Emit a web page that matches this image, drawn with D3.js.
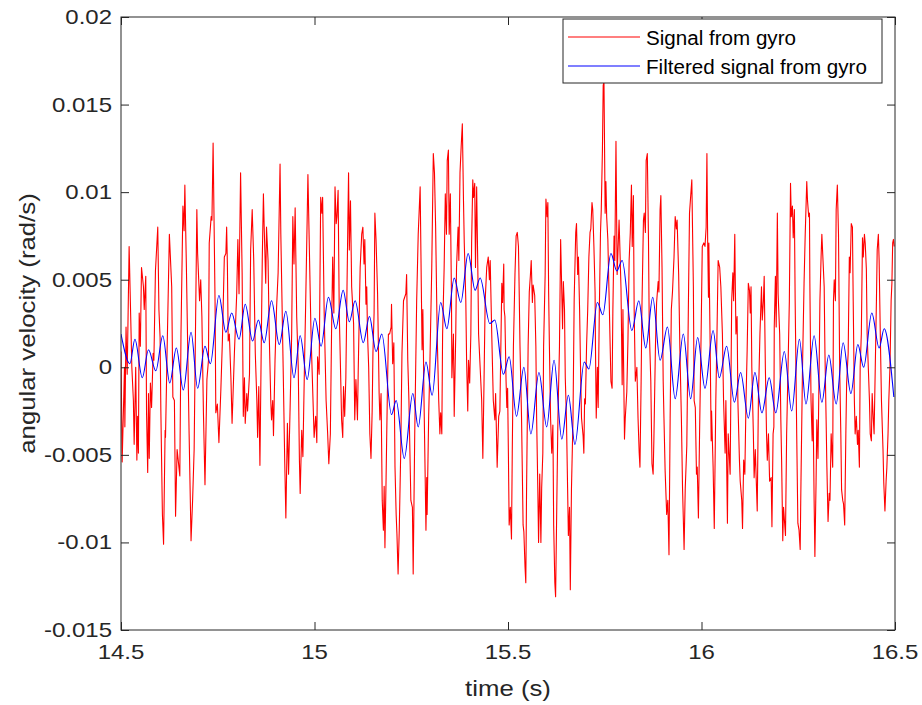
<!DOCTYPE html>
<html>
<head>
<meta charset="utf-8">
<script src="https://cdn.jsdelivr.net/npm/d3@7"></script>
<style>
  body { margin: 0; background: #fff; }
  text { font-family: "Liberation Sans", Arial, sans-serif; fill: #262626; }
</style>
</head>
<body>
<script>
// raw gyro signal (time in s, angular velocity in rad/s)
const gyroT = [
  14.500,14.503,14.509,14.510,14.513,14.516,14.521,14.528,14.532,14.534,14.538,14.541,14.543,14.545,14.547,14.550,14.553,14.558,14.560,14.564,
  14.566,14.569,14.571,14.573,14.576,14.579,14.583,14.585,14.589,14.595,14.598,14.601,14.603,14.607,14.610,14.614,14.615,14.619,14.625,14.631,
  14.634,14.638,14.641,14.645,14.652,14.655,14.660,14.663,14.665,14.669,14.676,14.681,14.685,14.689,14.696,14.698,14.703,14.706,14.709,14.713,
  14.717,14.722,14.726,14.728,14.733,14.735,14.738,
  14.743,14.745,14.749,14.753,14.758,14.762,14.767,14.771,14.773,14.775,14.777,14.780,14.784,14.787,14.789,14.793,14.799,14.802,14.805,14.809,
  14.813,14.816,14.819,14.821,14.825,14.827,14.832,14.835,14.839,14.843,14.847,14.851,14.853,14.856,14.859,14.862,14.865,14.868,14.870,14.874,
  14.876,14.880,14.883,14.887,14.889,14.892,14.894,14.898,14.902,14.906,14.911,14.913,14.919,14.923,14.926,14.930,14.933,14.937,14.941,14.944,
  14.947,14.950,14.954,14.958,14.961,14.963,14.967,14.970,14.974,14.977,14.981,14.983,
  14.991,14.997,14.999,15.003,15.006,15.008,15.012,15.016,15.019,15.021,15.025,15.030,15.034,15.037,15.041,15.044,15.047,15.050,15.053,15.056,
  15.058,15.061,15.064,15.068,15.070,15.073,15.075,15.078,15.081,15.084,15.086,15.088,15.090,15.093,15.096,15.101,15.104,15.107,15.111,15.113,
  15.116,15.118,15.122,15.125,15.128,15.130,15.133,15.135,15.137,15.140,15.143,15.146,15.149,15.151,15.154,15.156,15.159,15.163,15.167,15.169,
  15.172,15.175,15.178,15.180,15.182,15.185,15.188,15.191,15.194,15.198,15.199,15.202,15.205,15.208,15.211,15.213,15.216,15.219,15.223,15.226,
  15.230,
  15.233,15.236,15.238,15.241,15.244,15.249,15.253,15.255,15.259,15.264,15.268,15.273,15.276,15.278,15.280,15.283,15.286,15.288,15.290,15.291,
  15.295,15.298,15.303,15.307,15.310,15.313,15.317,15.321,15.324,15.326,15.329,15.331,15.335,15.338,15.341,15.343,15.346,15.348,15.351,15.354,
  15.355,15.359,15.361,15.365,15.367,15.371,15.373,15.376,15.379,15.382,15.385,15.387,15.391,15.393,15.396,15.398,15.401,15.404,15.406,15.409,
  15.411,15.414,15.416,15.419,15.422,15.424,15.428,15.432,15.435,15.438,15.441,15.445,15.449,15.452,15.454,15.458,15.462,15.466,15.468,15.472,
  15.476,
  15.479,15.484,15.486,15.489,15.490,15.492,15.495,15.497,15.499,15.501,15.503,15.506,15.509,15.511,15.514,15.518,15.521,15.524,15.527,15.528,
  15.531,15.535,15.539,15.541,15.544,15.546,15.548,15.552,15.555,15.558,15.560,15.563,15.565,15.569,15.572,15.574,15.577,15.579,15.582,15.585,
  15.587,15.590,15.592,15.596,15.598,15.601,15.603,15.605,15.607,15.610,15.613,15.616,15.618,15.621,15.623,15.626,15.629,15.633,15.636,15.638,
  15.641,15.643,15.646,15.648,15.651,15.654,15.656,15.659,15.661,15.664,15.668,15.671,15.675,15.677,15.680,15.682,15.685,15.688,15.690,15.694,
  15.696,15.698,15.700,15.703,15.706,15.709,15.712,15.714,15.717,15.719,15.722,15.725,
  15.726,15.728,15.731,15.733,15.736,15.739,15.741,15.744,15.746,15.748,15.751,15.753,15.755,15.758,15.761,15.764,15.766,15.769,15.771,15.774,
  15.776,15.779,15.782,15.784,15.787,15.789,15.792,15.795,15.797,15.801,15.803,15.807,15.810,15.813,15.816,15.819,15.821,15.824,15.826,15.829,
  15.833,15.836,15.839,15.841,15.844,15.846,15.850,15.852,15.855,15.857,15.860,15.863,15.865,15.869,15.872,15.875,15.877,15.881,15.884,15.888,
  15.890,15.893,15.895,15.898,15.901,15.903,15.906,15.910,15.913,15.916,15.919,15.922,15.925,15.929,15.932,15.935,15.937,15.941,15.944,15.948,
  15.951,15.955,15.958,15.962,15.966,15.969,
  15.975,15.979,15.981,15.984,15.987,15.989,15.992,15.995,15.999,16.002,16.006,16.009,16.012,16.014,16.016,16.018,16.019,16.022,16.025,16.026,
  16.030,16.033,16.037,16.040,16.043,16.047,16.050,16.054,16.057,16.061,16.063,16.067,16.069,16.074,16.078,16.081,16.083,16.086,16.087,16.089,
  16.092,16.094,16.098,16.100,16.104,16.106,16.109,16.112,16.115,16.118,16.121,16.124,16.126,16.128,16.130,16.134,16.136,16.139,16.142,16.144,
  16.147,16.151,16.155,16.157,16.160,16.162,16.165,16.168,16.170,16.173,16.176,16.180,16.182,16.185,16.187,16.188,16.191,16.193,16.196,16.198,
  16.202,16.205,16.207,16.210,16.212,16.217,
  16.220,16.224,16.227,16.230,16.232,16.235,16.237,16.240,16.242,16.246,16.249,16.252,16.255,16.257,16.261,16.265,16.268,16.272,16.274,16.277,
  16.279,16.280,16.283,16.286,16.288,16.291,16.293,16.296,16.298,16.301,16.304,16.306,16.309,16.311,16.314,16.317,16.319,16.322,16.324,16.327,
  16.330,16.332,16.335,16.339,16.341,16.343,16.346,16.348,16.351,16.354,16.357,16.360,16.362,16.365,16.367,16.370,16.373,16.375,16.379,16.382,
  16.384,16.387,16.390,16.392,16.395,16.397,16.400,16.403,16.405,16.408,16.410,16.413,16.416,16.418,16.421,16.423,16.426,16.428,16.431,16.434,
  16.436,16.439,16.441,16.444,16.446,16.449,16.452,16.454,16.457,16.459,16.462,16.465,16.469,16.471,16.474,16.477,16.479,16.482,16.484,16.487,
  16.490,16.492,16.494,16.496,16.498
];
const gyroV = [
  0.0009,-0.0054,0.0000,-0.0034,0.0023,-0.0004,0.0069,0.0000,-0.0019,-0.0044,0.0000,-0.0053,-0.0028,-0.0049,0.0031,0.0012,0.0057,0.0046,0.0033,0.0052,
  -0.0026,-0.0060,-0.0015,-0.0052,-0.0009,-0.0023,0.0008,0.0004,0.0055,0.0080,0.0033,0.0017,-0.0025,-0.0084,-0.0101,-0.0036,-0.0040,0.0008,0.0076,0.0046,
  -0.0017,-0.0019,-0.0085,-0.0047,-0.0062,0.0019,0.0092,0.0078,0.0104,0.0057,-0.0038,-0.0099,-0.0076,-0.0047,0.0090,0.0065,0.0038,0.0050,0.0029,-0.0026,
  -0.0067,-0.0007,0.0004,0.0071,0.0086,0.0084,0.0128,
  0.0038,-0.0026,-0.0021,-0.0043,-0.0013,0.0015,0.0063,0.0065,0.0080,0.0057,0.0015,0.0019,-0.0006,-0.0032,-0.0019,0.0008,0.0042,0.0073,0.0042,0.0111,
  0.0054,-0.0028,-0.0006,-0.0032,-0.0015,-0.0025,-0.0004,0.0067,0.0090,0.0061,0.0008,-0.0019,-0.0040,-0.0011,-0.0056,0.0004,0.0061,0.0099,0.0080,0.0048,
  0.0080,0.0061,0.0019,-0.0019,-0.0030,-0.0019,-0.0039,0.0004,0.0034,0.0054,0.0116,0.0076,0.0000,-0.0053,-0.0086,-0.0032,-0.0061,-0.0023,0.0019,0.0086,
  0.0059,0.0091,0.0029,0.0000,-0.0053,-0.0072,-0.0036,-0.0051,0.0000,0.0034,0.0084,0.0110,
  0.0019,-0.0025,-0.0040,-0.0028,-0.0043,0.0006,-0.0004,0.0097,0.0088,0.0097,0.0031,-0.0019,-0.0038,-0.0055,-0.0038,0.0019,0.0063,0.0031,0.0103,0.0082,
  0.0086,0.0101,0.0031,-0.0009,-0.0030,-0.0040,-0.0011,-0.0028,-0.0006,0.0046,0.0080,0.0111,0.0067,0.0095,0.0046,0.0025,-0.0030,-0.0007,-0.0030,-0.0002,
  0.0034,0.0057,0.0076,0.0080,0.0059,0.0073,0.0036,0.0046,0.0019,0.0000,-0.0038,-0.0052,-0.0025,0.0008,0.0031,0.0088,0.0073,0.0042,-0.0015,-0.0030,
  -0.0015,-0.0076,-0.0093,-0.0068,-0.0103,-0.0063,-0.0019,0.0019,0.0019,0.0023,0.0036,0.0002,0.0014,-0.0057,-0.0084,-0.0095,-0.0118,-0.0093,-0.0046,0.0008,
  0.0038,
  0.0040,0.0042,0.0053,0.0004,-0.0019,-0.0076,-0.0080,-0.0118,-0.0038,0.0038,0.0076,0.0103,0.0046,0.0010,0.0033,-0.0019,-0.0063,-0.0093,-0.0063,-0.0084,
  -0.0028,0.0000,0.0057,0.0122,0.0111,0.0080,0.0019,-0.0019,-0.0038,-0.0026,-0.0038,0.0019,0.0057,0.0099,0.0076,0.0118,0.0124,0.0076,0.0099,0.0038,
  -0.0006,0.0019,-0.0028,0.0019,0.0057,0.0080,0.0061,0.0111,0.0126,0.0139,0.0095,0.0071,0.0038,0.0004,-0.0025,0.0004,-0.0009,0.0019,0.0071,0.0107,
  0.0097,0.0105,0.0057,0.0103,0.0057,0.0019,0.0000,-0.0019,-0.0052,-0.0009,0.0038,0.0057,0.0063,0.0050,0.0061,0.0019,-0.0019,-0.0030,-0.0015,-0.0057,
  -0.0028,
  -0.0025,0.0048,0.0037,0.0059,0.0033,0.0029,-0.0008,-0.0023,-0.0012,-0.0049,-0.0090,-0.0080,-0.0098,-0.0049,0.0012,0.0053,0.0075,0.0077,0.0069,0.0057,
  0.0012,-0.0029,-0.0090,-0.0094,-0.0114,-0.0123,-0.0069,0.0012,0.0043,0.0053,0.0061,0.0037,0.0047,0.0041,0.0012,-0.0029,-0.0069,-0.0100,-0.0061,-0.0100,
  -0.0069,-0.0049,0.0012,0.0053,0.0096,0.0086,0.0094,0.0043,0.0012,-0.0029,-0.0049,-0.0033,-0.0090,-0.0123,-0.0131,-0.0080,-0.0029,0.0012,0.0073,0.0053,
  0.0022,0.0049,0.0033,-0.0006,-0.0029,-0.0069,-0.0096,-0.0080,-0.0127,-0.0069,-0.0029,0.0039,0.0077,0.0082,0.0053,0.0063,0.0033,-0.0008,-0.0029,-0.0039,
  -0.0049,-0.0018,-0.0021,0.0012,0.0033,0.0063,0.0077,0.0079,0.0094,0.0090,0.0069,0.0043,
  0.0012,-0.0029,0.0000,-0.0023,0.0033,0.0077,0.0090,0.0124,0.0161,0.0163,0.0088,0.0106,0.0086,0.0073,0.0043,0.0012,-0.0008,-0.0012,0.0033,0.0075,
  0.0061,0.0129,0.0053,0.0065,0.0084,0.0069,0.0045,-0.0010,0.0033,-0.0041,-0.0029,-0.0014,0.0016,0.0061,0.0077,0.0104,0.0069,0.0098,0.0033,-0.0008,
  0.0000,-0.0029,-0.0049,-0.0057,-0.0008,0.0033,0.0084,0.0088,0.0077,0.0118,0.0122,0.0073,0.0022,-0.0008,-0.0055,-0.0061,-0.0041,0.0012,0.0037,0.0049,
  0.0043,0.0090,0.0098,0.0057,-0.0008,-0.0029,-0.0059,-0.0084,-0.0076,-0.0107,-0.0029,0.0033,0.0043,0.0063,0.0086,0.0079,0.0084,0.0053,0.0012,-0.0029,
  -0.0069,-0.0104,-0.0069,-0.0045,0.0033,0.0088,
  0.0107,0.0046,-0.0019,-0.0023,-0.0061,-0.0057,-0.0086,-0.0038,0.0019,0.0069,0.0071,0.0069,0.0080,0.0122,0.0071,0.0040,0.0071,0.0019,-0.0042,-0.0025,
  -0.0057,-0.0092,-0.0019,0.0019,0.0061,0.0057,0.0046,0.0019,-0.0019,-0.0049,-0.0019,-0.0089,-0.0038,-0.0061,0.0038,0.0054,0.0038,0.0076,0.0054,0.0019,
  0.0029,-0.0019,-0.0053,-0.0065,-0.0076,-0.0092,-0.0053,-0.0061,-0.0019,0.0010,0.0048,0.0044,0.0031,0.0046,0.0000,-0.0038,-0.0063,-0.0047,-0.0068,-0.0082,
  -0.0019,0.0019,0.0046,0.0027,0.0038,0.0052,0.0000,-0.0038,-0.0053,-0.0038,-0.0065,-0.0063,-0.0091,-0.0038,-0.0034,0.0023,0.0052,0.0023,0.0088,0.0042,
  0.0019,-0.0030,-0.0053,-0.0099,-0.0080,-0.0096,
  -0.0038,0.0004,0.0038,0.0105,0.0086,0.0092,0.0074,0.0090,0.0038,-0.0038,-0.0089,-0.0093,-0.0104,-0.0066,0.0000,0.0048,0.0076,0.0106,0.0095,0.0086,
  0.0088,0.0048,-0.0019,-0.0042,-0.0015,-0.0076,-0.0108,-0.0066,-0.0030,-0.0052,0.0000,0.0038,0.0063,0.0076,0.0061,0.0046,0.0008,-0.0030,-0.0057,-0.0088,
  -0.0072,-0.0076,-0.0038,-0.0057,0.0038,0.0050,0.0038,0.0090,0.0104,0.0076,0.0000,-0.0038,-0.0070,-0.0076,-0.0078,-0.0090,-0.0038,-0.0009,0.0008,0.0063,
  0.0054,0.0082,0.0080,0.0038,-0.0019,-0.0038,-0.0028,-0.0044,-0.0036,-0.0057,0.0000,0.0019,0.0074,0.0063,0.0076,0.0071,0.0056,0.0019,0.0000,-0.0019,
  -0.0038,-0.0042,-0.0015,-0.0030,-0.0038,0.0000,0.0038,0.0067,0.0076,0.0061,0.0019,-0.0019,-0.0047,-0.0066,-0.0082,-0.0065,-0.0057,-0.0038,-0.0019,0.0000,
  0.0038,0.0048,0.0071,0.0073,0.0069
];

// filtered signal: turning points of the blue curve
const filtT = [
  14.500,14.523,14.536,14.555,14.571,14.590,14.608,14.626,14.643,14.661,14.681,14.698,14.717,14.731,14.753,14.771,14.786,14.805,14.821,14.840,
  14.855,14.870,14.889,14.909,14.926,14.947,14.963,14.981,15.001,15.017,15.036,15.055,15.074,15.090,15.105,15.126,15.142,15.159,15.174,15.199,
  15.211,15.232,15.254,15.268,15.288,15.304,15.326,15.342,15.361,15.378,15.397,15.415,15.428,15.453,15.466,15.488,15.503,15.522,15.541,15.559,
  15.580,15.600,15.619,15.639,15.656,15.673,15.697,15.709,15.731,15.745,15.766,15.781,15.795,15.820,15.838,15.856,15.874,15.893,15.912,15.932,
  15.953,15.972,15.990,16.009,16.030,16.046,16.065,16.085,16.101,16.121,16.138,16.156,16.175,16.192,16.214,16.233,16.253,16.270,16.291,16.311,
  16.329,16.348,16.366,16.386,16.404,16.419,16.440,16.459,16.472,16.497
];
const filtV = [
  0.0019,0.0002,0.0016,-0.0006,0.0010,-0.0002,0.0018,-0.0009,0.0011,-0.0013,0.0020,-0.0012,0.0012,0.0002,0.0041,0.0020,0.0031,0.0016,0.0036,0.0015,
  0.0027,0.0014,0.0038,0.0013,0.0032,-0.0006,0.0018,-0.0007,0.0028,0.0012,0.0040,0.0022,0.0044,0.0026,0.0038,0.0014,0.0029,0.0009,0.0019,-0.0027,
  -0.0019,-0.0052,-0.0015,-0.0034,0.0003,-0.0016,0.0037,0.0022,0.0051,0.0037,0.0065,0.0044,0.0051,0.0025,0.0027,-0.0004,0.0006,-0.0028,0.0000,-0.0038,
  -0.0003,-0.0034,0.0004,-0.0041,-0.0016,-0.0044,0.0003,-0.0001,0.0037,0.0030,0.0065,0.0055,0.0061,0.0021,0.0038,0.0011,0.0040,0.0004,0.0023,-0.0018,
  0.0019,-0.0018,0.0017,-0.0012,0.0021,-0.0006,0.0012,-0.0020,-0.0003,-0.0029,-0.0003,-0.0026,-0.0006,-0.0026,0.0009,-0.0025,0.0016,-0.0021,0.0018,-0.0020,
  0.0007,-0.0021,0.0014,-0.0015,0.0013,0.0000,0.0031,0.0011,0.0022,-0.0017
];

const xTicks = [14.5, 15, 15.5, 16, 16.5];
const xTickLabels = ["14.5", "15", "15.5", "16", "16.5"];
const yTicks = [-0.015, -0.01, -0.005, 0, 0.005, 0.01, 0.015, 0.02];
const yTickLabels = ["-0.015", "-0.01", "-0.005", "0", "0.005", "0.01", "0.015", "0.02"];
const seriesNames = ["Signal from gyro", "Filtered signal from gyro"];
const seriesColors = ["#ff0000", "#0000ff"];

const W = 922, H = 705;
const mLeft = 121, mRight = 895, mTop = 17, mBottom = 630;

const svg = d3.select("body").append("svg")
  .attr("width", W).attr("height", H);

const x = d3.scaleLinear().domain([14.5, 16.5]).range([mLeft, mRight]);
const y = d3.scaleLinear().domain([-0.015, 0.02]).range([mBottom, mTop]);

// the text in the picture is wider than plain Arial, so stretch it sideways
function label(g, str, px, py, size, sx, anchor, rot) {
  let tr = "translate(" + px + "," + py + ")";
  if (rot) tr += " rotate(" + rot + ")";
  tr += " scale(" + sx + ",1)";
  return g.append("text")
    .attr("transform", tr)
    .attr("text-anchor", anchor)
    .style("font-size", size + "px")
    .text(str);
}

svg.append("clipPath").attr("id", "plotclip")
  .append("rect")
  .attr("x", mLeft).attr("y", mTop)
  .attr("width", mRight - mLeft).attr("height", mBottom - mTop);

const plot = svg.append("g").attr("clip-path", "url(#plotclip)");

const rawLine = d3.line()
  .x(i => x(gyroT[i]))
  .y(i => y(gyroV[i]));

const filtLine = d3.line()
  .x(i => x(filtT[i]))
  .y(i => y(filtV[i]))
  .curve(d3.curveMonotoneX);

plot.append("path")
  .attr("d", rawLine(d3.range(gyroT.length)))
  .attr("fill", "none")
  .attr("stroke", seriesColors[0])
  .attr("stroke-width", 1.1)
  .attr("stroke-linejoin", "round");

plot.append("path")
  .attr("d", filtLine(d3.range(filtT.length)))
  .attr("fill", "none")
  .attr("stroke", seriesColors[1])
  .attr("stroke-width", 1.1);

// axes, ticks point inwards on all four sides
const axisColor = "#262626";
function styleAxis(g) {
  g.select(".domain").remove();
  g.selectAll("line").attr("stroke", axisColor);
  g.selectAll("text").remove();
}

svg.append("g").attr("transform", "translate(0," + mBottom + ")")
  .call(d3.axisBottom(x).tickValues(xTicks).tickSize(-8).tickSizeOuter(0))
  .call(styleAxis);
svg.append("g").attr("transform", "translate(0," + mTop + ")")
  .call(d3.axisTop(x).tickValues(xTicks).tickSize(-8).tickSizeOuter(0))
  .call(styleAxis);
svg.append("g").attr("transform", "translate(" + mLeft + ",0)")
  .call(d3.axisLeft(y).tickValues(yTicks).tickSize(-8).tickSizeOuter(0))
  .call(styleAxis);
svg.append("g").attr("transform", "translate(" + mRight + ",0)")
  .call(d3.axisRight(y).tickValues(yTicks).tickSize(-8).tickSizeOuter(0))
  .call(styleAxis);

svg.append("rect")
  .attr("x", mLeft).attr("y", mTop)
  .attr("width", mRight - mLeft).attr("height", mBottom - mTop)
  .attr("fill", "none")
  .attr("stroke", axisColor)
  .attr("stroke-width", 1);

const labels = svg.append("g");
xTicks.forEach((t, i) => {
  label(labels, xTickLabels[i], x(t), 659, 20, 1.2, "middle");
});
yTicks.forEach((t, i) => {
  label(labels, yTickLabels[i], 112, y(t) + 7, 20, 1.2, "end");
});

label(labels, "time (s)", (mLeft + mRight) / 2, 696, 23, 1.12, "middle");
label(labels, "angular velocity (rad/s)", 35, (mTop + mBottom) / 2, 23, 1.12, "middle", -90);

// legend
const leg = svg.append("g");
leg.append("rect")
  .attr("x", 563).attr("y", 19)
  .attr("width", 319).attr("height", 64)
  .attr("fill", "#fff")
  .attr("stroke", axisColor)
  .attr("stroke-width", 1);

seriesNames.forEach((name, i) => {
  const ly = 37 + i * 29;
  leg.append("line")
    .attr("x1", 568).attr("x2", 640)
    .attr("y1", ly).attr("y2", ly)
    .attr("stroke", seriesColors[i])
    .attr("stroke-width", 1.1);
  label(leg, name, 646, ly + 8, 20, 1.03, "start").style("fill", "#000");
});
</script>
</body>
</html>
